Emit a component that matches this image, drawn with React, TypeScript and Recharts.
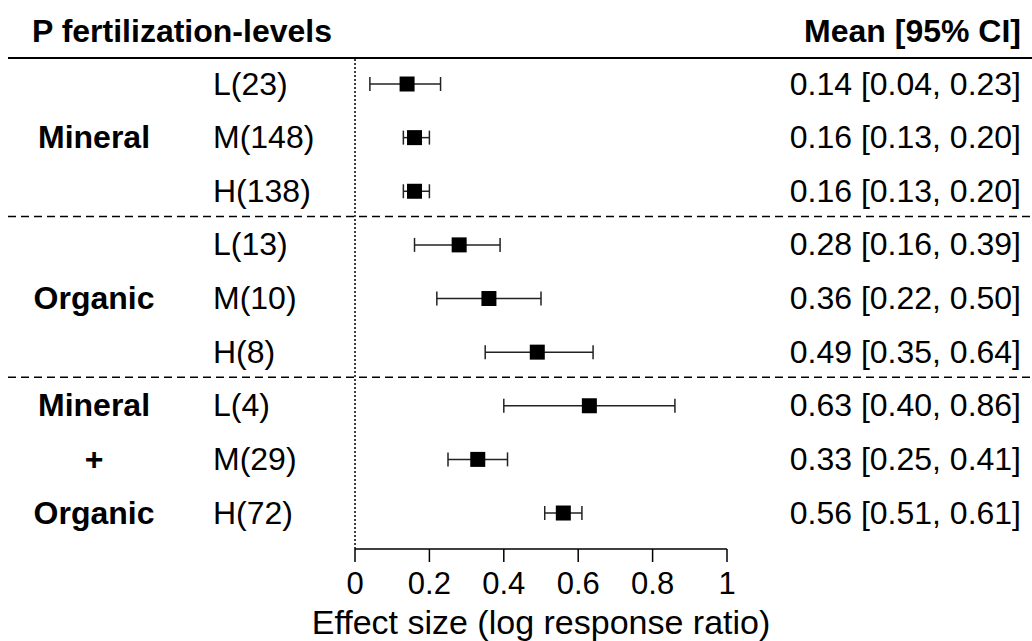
import React from "react";
import {
  ErrorBar,
  Label,
  ReferenceLine,
  Scatter,
  ScatterChart,
  XAxis,
  YAxis,
} from "recharts";

// One row per fertilization level, top to bottom as in the figure.
const groupLabels = ["", "Mineral", "", "", "Organic", "", "Mineral", "+", "Organic"];
const levels = ["L(23)", "M(148)", "H(138)", "L(13)", "M(10)", "H(8)", "L(4)", "M(29)", "H(72)"];
const means = [0.14, 0.16, 0.16, 0.28, 0.36, 0.49, 0.63, 0.33, 0.56];
const lower = [0.04, 0.13, 0.13, 0.16, 0.22, 0.35, 0.4, 0.25, 0.51];
const upper = [0.23, 0.2, 0.2, 0.39, 0.5, 0.64, 0.86, 0.41, 0.61];
const xTicks = [0, 0.2, 0.4, 0.6, 0.8, 1];
// Separators sit between the three fertilizer groups.
const groupBreaks = [2.47, 5.47];

const FONT = '"Liberation Sans", Arial, sans-serif';
const TEXT_SIZE = 32;
const HEAD_SIZE = 32;
const ROW_DOMAIN: [number, number] = [-0.485, 8.671];

const rows = levels.map((level, i) => ({
  row: i,
  mean: means[i],
  errX: [means[i] - lower[i], upper[i] - means[i]],
}));

const fmt = (v: number) => v.toFixed(2);

function RowTick({ y, payload }: { y?: number; payload?: { value: number } }) {
  const i = payload?.value ?? 0;
  const yy = y ?? 0;
  return (
    <g fontSize={TEXT_SIZE} fill="#000">
      {groupLabels[i] && (
        <text x={94} y={yy} dy="0.33em" textAnchor="middle" fontWeight="bold">
          {groupLabels[i]}
        </text>
      )}
      <text x={213} y={yy} dy="0.33em" textAnchor="start">
        {levels[i]}
      </text>
      <text x={1021} y={yy} dy="0.33em" textAnchor="end">
        {`${fmt(means[i])} [${fmt(lower[i])}, ${fmt(upper[i])}]`}
      </text>
    </g>
  );
}

function HeaderLine(props: { y1?: number }) {
  const y = props.y1 ?? 0;
  return (
    <g>
      <line x1={8} x2={1032} y1={y} y2={y} stroke="#000" strokeWidth={2} />
      <text x={32} y={y - 16} fontSize={HEAD_SIZE} fontWeight="bold" fill="#000">
        P fertilization-levels
      </text>
      <text
        x={1021}
        y={y - 16}
        fontSize={HEAD_SIZE}
        fontWeight="bold"
        fill="#000"
        textAnchor="end"
      >
        Mean [95% CI]
      </text>
    </g>
  );
}

function GroupBreak(props: { y1?: number }) {
  const y = props.y1 ?? 0;
  return (
    <line
      x1={8}
      x2={1032}
      y1={y}
      y2={y}
      stroke="#000"
      strokeWidth={1.5}
      strokeDasharray="8 5"
    />
  );
}

function Square(props: { cx?: number; cy?: number }) {
  const cx = props.cx ?? 0;
  const cy = props.cy ?? 0;
  return <rect x={cx - 7.5} y={cy - 7.5} width={15} height={15} fill="#000" />;
}

export default function App() {
  return (
    <div style={{ width: 1032, height: 641, fontFamily: FONT, background: "#fff" }}>
      <style>{"body{margin:0}"}</style>
      <ScatterChart
        width={1032}
        height={641}
        margin={{ top: 58, right: 305, bottom: 0, left: 354 }}
      >
        <XAxis
          type="number"
          dataKey="mean"
          domain={[0, 1]}
          ticks={xTicks}
          allowDataOverflow
          height={92}
          tickSize={13}
          tickMargin={10}
          axisLine={{ stroke: "#000", strokeWidth: 1.5 }}
          tickLine={{ stroke: "#000", strokeWidth: 1.5 }}
          tick={{ fontSize: 31, fill: "#000" }}
        >
          <Label
            value="Effect size (log response ratio)"
            position="insideBottom"
            offset={7}
            fontSize={34}
            fill="#000"
          />
        </XAxis>
        <YAxis
          type="number"
          dataKey="row"
          domain={ROW_DOMAIN}
          allowDataOverflow
          reversed
          ticks={levels.map((_, i) => i)}
          interval={0}
          width={1}
          axisLine={false}
          tickLine={false}
          tick={<RowTick />}
        />
        <ReferenceLine
          y={ROW_DOMAIN[0]}
          ifOverflow="visible"
          shape={(p: { y1?: number }) => <HeaderLine y1={p.y1} />}
        />
        {groupBreaks.map((b) => (
          <ReferenceLine
            key={b}
            y={b}
            ifOverflow="visible"
            shape={(p: { y1?: number }) => <GroupBreak y1={p.y1} />}
          />
        ))}
        <ReferenceLine x={0} stroke="#000" strokeWidth={1.5} strokeDasharray="2 2" />
        <Scatter data={rows} shape={<Square />} isAnimationActive={false}>
          <ErrorBar
            dataKey="errX"
            direction="x"
            width={7}
            stroke="#222"
            strokeWidth={1.5}
            isAnimationActive={false}
          />
        </Scatter>
      </ScatterChart>
    </div>
  );
}
